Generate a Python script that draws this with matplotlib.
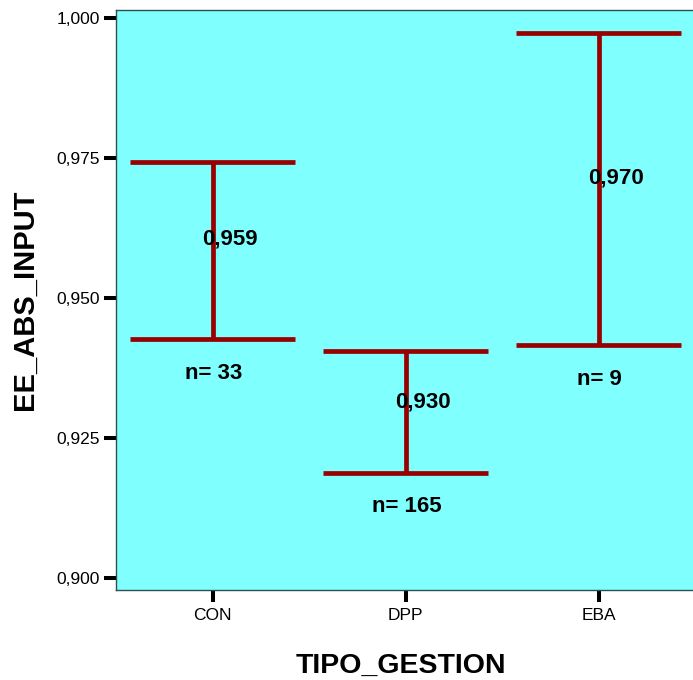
import matplotlib
matplotlib.use("Agg")
import matplotlib.pyplot as plt

plt.rcParams["font.family"] = ["Liberation Sans", "DejaVu Sans"]

# data
groups = ["CON", "DPP", "EBA"]
means = [0.959, 0.930, 0.970]
lower = [0.9426, 0.9188, 0.9416]
upper = [0.9743, 0.9405, 0.9974]
counts = [33, 165, 9]

bar_color = "#990000"
bg_color = "#80ffff"

fig = plt.figure(figsize=(6.93, 6.80), dpi=100)
W, H = 693, 680
ax = fig.add_axes([116 / W, 1 - 590 / H, 579 / W, 580 / H])
ax.set_facecolor(bg_color)

xs = list(range(len(groups)))
cap = 0.43
for x, m, lo, hi, n in zip(xs, means, lower, upper, counts):
    ax.vlines(x, lo, hi, color=bar_color, lw=3.4)
    ax.hlines([lo, hi], x - cap, x + cap, color=bar_color, lw=3.4, capstyle="butt")
    ax.annotate(f"{m:.3f}".replace(".", ","), (x, m), xytext=(-7.2, 2),
                textcoords="offset points", ha="left", va="baseline",
                fontsize=16, fontweight="bold")
    ax.annotate(f"n= {n}", (x, lo), xytext=(1, -28.5),
                textcoords="offset points", ha="center", va="baseline",
                fontsize=16, fontweight="bold")

ax.set_xlim(-0.5, 2.5)
ax.set_ylim(0.89786, 1.00143)
ax.set_xticks(xs)
ax.set_xticklabels(groups)
yt = [0.900, 0.925, 0.950, 0.975, 1.000]
ax.set_yticks(yt)
ax.set_yticklabels([f"{v:.3f}".replace(".", ",") for v in yt])
ax.tick_params(axis="both", length=8.6, width=2.9, color="black", labelsize=12.5)
ax.tick_params(axis="y", pad=3)
ax.tick_params(axis="x", pad=4.5)

for s in ax.spines.values():
    s.set_color("#2f4f4f")
    s.set_linewidth(1.0)

fig.text(25 / W, 1 - 300 / H, "EE_ABS_INPUT", rotation=90, ha="center",
         va="center", fontsize=21, fontweight="bold")
fig.text(401 / W, 1 - 666 / H, "TIPO_GESTION", ha="center", va="center",
         fontsize=20.5, fontweight="bold")

fig.savefig("out.png", dpi=100)
